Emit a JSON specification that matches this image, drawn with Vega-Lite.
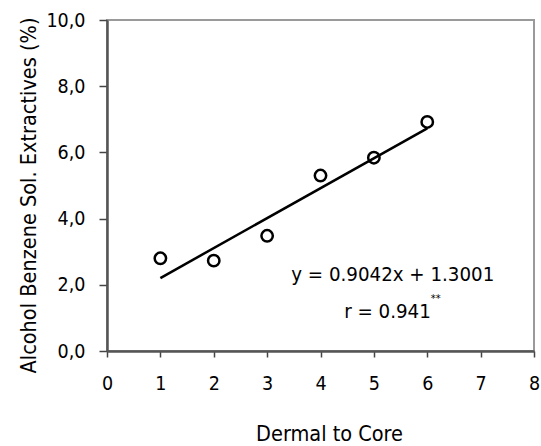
{
  "$schema": "https://vega.github.io/schema/vega-lite/v6.json",
  "width": 427,
  "height": 331,
  "autosize": {"type": "none"},
  "padding": {"left": 107, "top": 20, "right": 7, "bottom": 95},
  "background": "white",
  "config": {
    "font": "Liberation Sans Narrow, DejaVu Sans Condensed, Liberation Sans, sans-serif",
    "view": {"stroke": "#9a9a9a", "strokeWidth": 2},
    "axis": {"grid": false}
  },
  "datasets": {
    "obs": [
      {"x": 1, "y": 2.80},
      {"x": 2, "y": 2.73},
      {"x": 3, "y": 3.48},
      {"x": 4, "y": 5.30},
      {"x": 5, "y": 5.84},
      {"x": 6, "y": 6.92}
    ],
    "fit": [
      {"x": 1, "y": 2.2043},
      {"x": 6, "y": 6.7253}
    ],
    "notes": [
      {"x": 5.354, "y": 2.124, "label": "y = 0.9042x + 1.3001", "size": 20.3, "align": "center"},
      {"x": 5.256, "y": 0.988, "label": "r = 0.941", "size": 20.3, "align": "center"},
      {"x": 6.16, "y": 1.48, "label": "**", "size": 11, "align": "left"}
    ]
  },
  "layer": [
    {
      "data": {"name": "fit"},
      "mark": {"type": "line", "color": "black", "strokeWidth": 2.5},
      "encoding": {
        "x": {
          "field": "x", "type": "quantitative",
          "scale": {"domain": [0, 8], "nice": false, "zero": false},
          "axis": {
            "title": "Dermal to Core",
            "values": [0, 1, 2, 3, 4, 5, 6, 7, 8],
            "format": "d",
            "domainColor": "#555555", "domainWidth": 2.5,
            "tickColor": "#444444", "tickWidth": 1.5, "tickSize": 6,
            "labelFontSize": 19.5, "labelColor": "black",
            "labelPadding": 17, "labelFlush": false, "labelOverlap": false,
            "titleFontSize": 21.5, "titleFontWeight": "normal", "titleColor": "black",
            "titleBaseline": "alphabetic", "titleAlign": "center", "titleX": 222, "titleY": 89.5
          }
        },
        "y": {
          "field": "y", "type": "quantitative",
          "scale": {"domain": [0, 10], "nice": false},
          "axis": {
            "title": "Alcohol Benzene Sol. Extractives (%)",
            "values": [0, 2, 4, 6, 8, 10],
            "labelExpr": "replace(format(datum.value, '.1f'), '.', ',')",
            "domainColor": "#555555", "domainWidth": 2.5,
            "tickColor": "#444444", "tickWidth": 1.5, "tickSize": 8,
            "labelFontSize": 19.5, "labelColor": "black",
            "labelPadding": 14, "labelFlush": false, "labelOverlap": false,
            "titleFontSize": 21.5, "titleFontWeight": "normal", "titleColor": "black",
            "titleAngle": -90, "titleBaseline": "alphabetic", "titleAlign": "center", "titleX": -72, "titleY": 175
          }
        }
      }
    },
    {
      "data": {"name": "obs"},
      "mark": {"type": "point", "shape": "circle", "filled": false, "color": "black", "strokeWidth": 2.5, "size": 130, "opacity": 1},
      "encoding": {
        "x": {"field": "x", "type": "quantitative"},
        "y": {"field": "y", "type": "quantitative"}
      }
    },
    {
      "data": {"name": "notes"},
      "mark": {"type": "text", "baseline": "alphabetic", "color": "black"},
      "encoding": {
        "x": {"field": "x", "type": "quantitative"},
        "y": {"field": "y", "type": "quantitative"},
        "text": {"field": "label"},
        "size": {"field": "size", "type": "quantitative", "scale": null},
        "align": {"field": "align", "type": "nominal", "scale": null}
      }
    }
  ]
}
